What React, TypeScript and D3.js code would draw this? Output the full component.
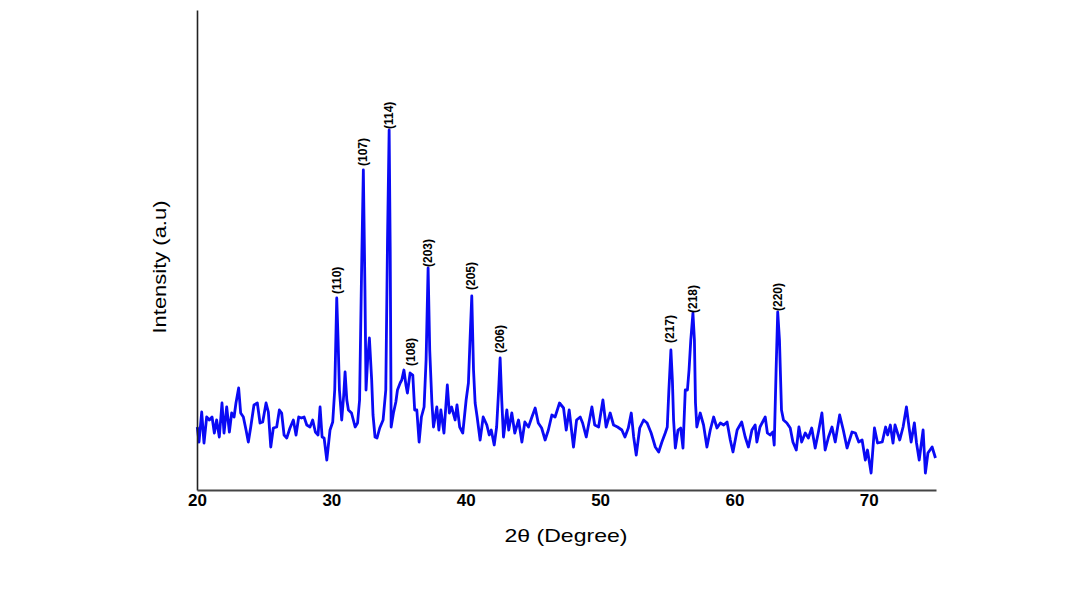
import React, { useEffect, useRef } from "react";
import * as d3 from "d3";

// 2θ positions (degree) and intensity (a.u.)
const twoTheta = [
  20.02, 20.15, 20.35, 20.52, 20.72, 20.92, 21.12, 21.29, 21.46, 21.66, 21.86, 22.01, 22.21, 22.41, 22.58, 22.76, 22.9, 23.1, 23.25, 23.45,
  23.65, 23.82, 24.0, 24.24, 24.49, 24.69, 24.89, 25.14, 25.31, 25.49, 25.68, 25.93, 26.13, 26.3, 26.48, 26.68, 26.92, 27.17, 27.37, 27.57,
  27.77, 27.97, 28.17, 28.41, 28.61, 28.81, 29.01, 29.16, 29.31, 29.46, 29.66, 29.9, 30.1, 30.25, 30.4, 30.5, 30.6, 30.77, 30.92, 31.02,
  31.15, 31.27, 31.5, 31.77, 31.95, 32.1, 32.25, 32.38, 32.5, 32.58, 32.7, 32.83, 33.0, 33.1, 33.25, 33.4, 33.6, 33.85, 34.05, 34.18,
  34.3, 34.38, 34.45, 34.62, 34.8, 34.92, 35.12, 35.24, 35.4, 35.55, 35.66, 35.86, 36.06, 36.2, 36.36, 36.53, 36.7, 36.9, 37.05, 37.2,
  37.32, 37.48, 37.6, 37.85, 38.0, 38.15, 38.38, 38.63, 38.78, 38.95, 39.21, 39.35, 39.55, 39.78, 40.03, 40.2, 40.32, 40.45, 40.58, 40.7,
  40.85, 41.07, 41.3, 41.57, 41.75, 41.9, 42.12, 42.3, 42.45, 42.56, 42.68, 42.81, 43.06, 43.2, 43.43, 43.65, 43.93, 44.18, 44.4, 44.67,
  44.9, 45.17, 45.4, 45.65, 45.91, 46.15, 46.41, 46.65, 46.98, 47.28, 47.48, 47.7, 48.02, 48.25, 48.52, 48.7, 48.97, 49.39, 49.6, 49.89,
  50.21, 50.45, 50.75, 51.0, 51.3, 51.62, 51.85, 52.1, 52.32, 52.5, 52.69, 52.95, 53.24, 53.5, 53.8, 54.11, 54.36, 54.6, 54.85, 55.0,
  55.12, 55.27, 55.38, 55.47, 55.6, 55.8, 56.0, 56.17, 56.34, 56.5, 56.62, 56.75, 56.91, 57.02, 57.1, 57.2, 57.45, 57.7, 57.95, 58.2,
  58.45, 58.7, 58.95, 59.2, 59.45, 59.69, 59.89, 60.2, 60.54, 60.8, 61.04, 61.3, 61.54, 61.67, 61.9, 62.29, 62.45, 62.65, 62.86, 62.96,
  63.1, 63.22, 63.35, 63.5, 63.65, 63.9, 64.15, 64.35, 64.6, 64.8, 65.0, 65.27, 65.5, 65.75, 66.01, 66.25, 66.51, 66.75, 67.0, 67.26,
  67.5, 67.83, 68.1, 68.38, 68.75, 69.0, 69.25, 69.5, 69.74, 69.9, 70.17, 70.42, 70.65, 71.0, 71.25, 71.4, 71.6, 71.8, 71.95, 72.3,
  72.55, 72.8, 73.0, 73.15, 73.39, 73.55, 73.75, 74.04, 74.21, 74.4, 74.71, 74.96,
];

const intensity = [
  63, 48, 78, 47, 73, 70, 73, 57, 70, 53, 87, 57, 83, 58, 77, 73, 87, 102, 77, 73,
  60, 48, 63, 85, 87, 67, 68, 87, 78, 43, 62, 63, 80, 77, 55, 52, 62, 70, 55, 73,
  72, 73, 65, 63, 70, 58, 55, 83, 53, 52, 30, 60, 68, 100, 192, 150, 100, 70, 95, 118,
  90, 80, 77, 63, 67, 90, 220, 320, 200, 100, 130, 152, 110, 75, 53, 52, 62, 70, 100, 250,
  360, 240, 63, 77, 88, 100, 107, 110, 120, 105, 97, 117, 115, 80, 80, 48, 73, 83, 130, 222,
  140, 88, 63, 83, 60, 80, 57, 105, 77, 83, 70, 85, 63, 57, 90, 107, 150, 194, 120, 87,
  73, 50, 73, 65, 55, 60, 45, 63, 100, 132, 90, 53, 80, 60, 77, 57, 70, 48, 68, 63,
  72, 82, 67, 62, 50, 60, 75, 73, 87, 82, 60, 80, 43, 70, 73, 67, 53, 83, 65, 63,
  90, 63, 77, 65, 63, 60, 53, 62, 77, 53, 35, 62, 70, 67, 57, 43, 38, 48, 57, 63,
  100, 140, 110, 70, 42, 60, 62, 42, 100, 100, 120, 150, 177, 150, 87, 63, 77, 65, 43, 60,
  73, 62, 67, 65, 68, 50, 38, 60, 68, 53, 43, 60, 65, 48, 63, 73, 57, 55, 58, 45,
  120, 178, 150, 80, 70, 67, 62, 48, 40, 63, 48, 57, 52, 62, 42, 58, 77, 40, 53, 63,
  48, 75, 60, 42, 58, 57, 48, 50, 30, 40, 17, 62, 47, 48, 63, 55, 65, 47, 65, 50,
  63, 83, 62, 48, 67, 47, 30, 60, 17, 37, 43, 32,
];

// Miller indices placed above the reflections
const peakLabels = ["(110)", "(107)", "(114)", "(108)", "(203)", "(205)", "(206)", "(217)", "(218)", "(220)"];
const peakTheta = [30.42, 32.36, 34.25, 35.9, 37.2, 40.4, 42.55, 55.2, 56.9, 63.2];
const peakTop = [194, 322, 359, 122, 221, 198, 135, 145, 175, 177];

const xTicks = [20, 30, 40, 50, 60, 70];

export default function App() {
  const ref = useRef<SVGSVGElement>(null);

  useEffect(() => {
    const width = 1078;
    const height = 596;
    const svg = d3.select(ref.current);
    svg.selectAll("*").remove();

    const x = d3.scaleLinear().domain([20, 75]).range([197, 936]);
    const y = d3.scaleLinear().domain([0, 480]).range([490, 10]);

    svg.append("rect").attr("width", width).attr("height", height).attr("fill", "#fff");

    const data = twoTheta.map((t, i) => ({ t, v: intensity[i] }));
    const line = d3.line<{ t: number; v: number }>().x(d => x(d.t)).y(d => y(d.v));

    svg.append("path").datum(data)
      .attr("d", line)
      .attr("fill", "none")
      .attr("stroke", "#0a0af5")
      .attr("stroke-width", 2.8)
      .attr("stroke-linejoin", "round");

    // y axis: bare line
    const yAxis = svg.append("g").attr("transform", `translate(${x(20)},0)`)
      .call(d3.axisLeft(y).tickValues([]).tickSizeOuter(0));
    yAxis.select(".domain").attr("stroke", "#222").attr("stroke-width", 1.6);

    const xAxis = svg.append("g").attr("transform", `translate(0,${y(0)})`)
      .call(d3.axisBottom(x).tickValues(xTicks).tickSize(0).tickPadding(4).tickFormat(d3.format("d")));
    xAxis.select(".domain").attr("stroke", "#444").attr("stroke-width", 2);
    xAxis.selectAll("text")
      .attr("font-family", "Arial, 'Liberation Sans', sans-serif")
      .attr("font-weight", "bold")
      .attr("font-size", 17)
      .attr("fill", "#000");

    svg.selectAll(".peak-label").data(peakLabels).join("text")
      .attr("class", "peak-label")
      .attr("transform", (d, i) => `translate(${x(peakTheta[i])},${y(peakTop[i]) - 2}) rotate(-90)`)
      .attr("dy", "0.35em")
      .attr("font-family", "Arial, 'Liberation Sans', sans-serif")
      .attr("font-weight", "bold")
      .attr("font-size", 12)
      .attr("fill", "#000")
      .text(d => d);

    svg.append("text")
      .attr("x", 566).attr("y", 542)
      .attr("text-anchor", "middle")
      .attr("font-family", "Arial, 'Liberation Sans', sans-serif")
      .attr("font-size", 19)
      .attr("textLength", 123)
      .attr("lengthAdjust", "spacingAndGlyphs")
      .attr("fill", "#000")
      .text("2θ (Degree)");

    svg.append("text")
      .attr("transform", "translate(166,267) rotate(-90)")
      .attr("text-anchor", "middle")
      .attr("font-family", "Arial, 'Liberation Sans', sans-serif")
      .attr("font-size", 19)
      .attr("textLength", 133)
      .attr("lengthAdjust", "spacingAndGlyphs")
      .attr("fill", "#000")
      .text("Intensity (a.u)");
  }, []);

  return (
    <svg ref={ref} width={1078} height={596}
      style={{ position: "absolute", left: 0, top: 0, display: "block" }} />
  );
}
